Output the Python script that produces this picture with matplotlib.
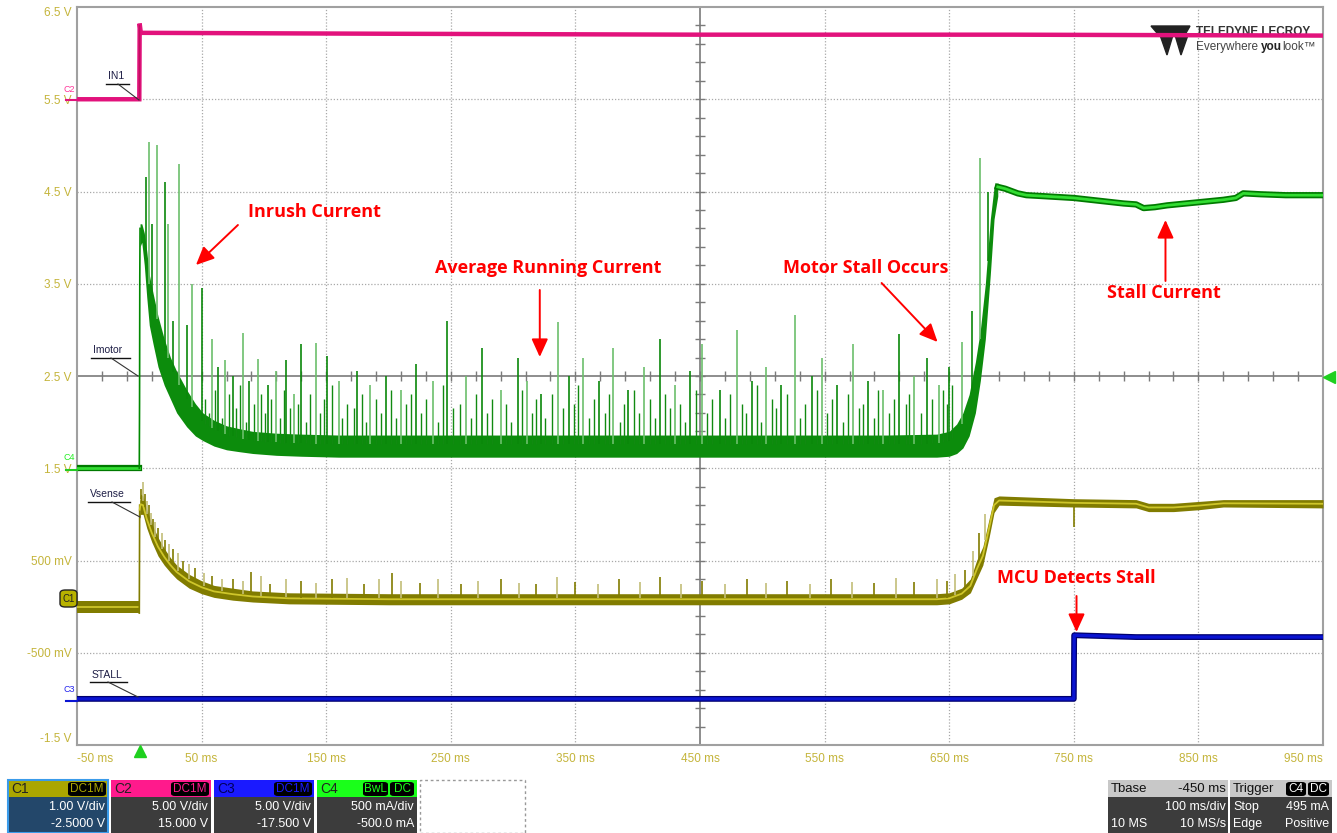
import numpy as np
import matplotlib.pyplot as plt
from matplotlib.patches import Rectangle, FancyBboxPatch, Polygon

plt.rcParams['font.family'] = ['Liberation Sans', 'DejaVu Sans']

W, H = 1337, 833

# axis labels (time in ms, screen volts on the C1 scale)
x_ticks = [-50, 50, 150, 250, 350, 450, 550, 650, 750, 850, 950]
x_labels = [f"{t} ms" for t in x_ticks]
y_ticks = [-1.5, -0.5, 0.5, 1.5, 2.5, 3.5, 4.5, 5.5, 6.5]
y_labels = ["-1.5 V", "-500 mV", "500 mV", "1.5 V", "2.5 V", "3.5 V", "4.5 V", "5.5 V", "6.5 V"]

# C2  IN1
in1_t = [-50, 0, 0.3, 1.2, 200, 450, 700, 950]
in1_v = [5.5, 5.5, 6.32, 6.22, 6.21, 6.2, 6.2, 6.19]

# C4  Imotor
im_pre_t = [-50, 0]
im_pre_v = [1.5, 1.5]
im_step_t = [0, 0.2, 0.4, 0.6]
im_step_v = [1.5, 2.2, 3.57, 4.1]
im_band_t = [0.6, 2, 4, 6, 8, 11, 15, 20, 25, 30, 38, 45, 51, 60, 70, 80, 91, 110, 130, 160,
             200, 300, 400, 500, 600, 640, 650, 656, 661, 666, 671, 675, 679, 683, 686, 689]
im_band_lo = [3.9, 3.95, 3.7, 3.35, 3.05, 2.85, 2.6, 2.4, 2.25, 2.1, 1.95, 1.85, 1.8, 1.74, 1.7, 1.68, 1.66, 1.64, 1.63, 1.62,
              1.62, 1.62, 1.62, 1.62, 1.62, 1.62, 1.63, 1.66, 1.72, 1.85, 2.1, 2.45, 2.9, 3.6, 4.2, 4.45]
im_band_hi = [4.15, 4.15, 4.05, 3.85, 3.6, 3.4, 3.15, 2.9, 2.7, 2.55, 2.35, 2.2, 2.1, 2.02, 1.96, 1.93, 1.9, 1.88, 1.87, 1.86,
              1.86, 1.86, 1.86, 1.86, 1.86, 1.87, 1.9, 1.98, 2.1, 2.3, 2.65, 3.0, 3.5, 4.2, 4.55, 4.6]
im_spk_t = [5.5, 8, 10, 14, 20.6, 22.7, 27, 32, 38, 42, 50, 58, 63, 69, 75, 83, 88, 95, 103, 110,
            118, 124, 130, 142, 151, 160, 175, 185, 198, 210, 222, 236, 247, 262, 275, 290, 304, 311, 322, 336,
            345, 356, 369, 380, 392, 405, 418, 430, 442, 452, 466, 480, 492, 503, 515, 526, 540, 548, 560, 573,
            585, 597, 610, 622, 632, 642, 650, 660, 668, 675, 681]
im_spk_v = [4.66, 5.04, 4.15, 5.0, 4.6, 4.15, 3.1, 4.8, 3.05, 3.5, 3.45, 2.9, 2.6, 2.67, 2.5, 2.97, 2.45, 2.68, 2.4, 2.55,
            2.67, 2.3, 2.85, 2.86, 2.72, 2.45, 2.55, 2.4, 2.5, 2.35, 2.63, 2.45, 3.1, 2.5, 2.8, 2.35, 2.7, 2.45, 2.3, 3.08,
            2.5, 2.7, 2.45, 2.8, 2.35, 2.6, 2.9, 2.4, 2.55, 2.85, 2.35, 3.0, 2.45, 2.6, 2.4, 3.16, 2.5, 2.7, 2.4, 2.85,
            2.45, 2.35, 2.95, 2.5, 2.7, 2.4, 2.6, 2.87, 3.2, 4.86, 4.5]
im_small_t = [53, 56, 61, 66, 72, 78, 81, 86, 92, 98, 101, 106, 113, 116, 121, 127, 134, 137, 145, 148,
              155, 163, 167, 172, 179, 182, 190, 194, 202, 206, 214, 218, 226, 230, 240, 244, 252, 257, 266, 270,
              279, 283, 294, 298, 307, 315, 318, 326, 331, 340, 349, 352, 361, 365, 374, 377, 386, 389, 397, 401,
              410, 414, 422, 426, 434, 438, 447, 456, 460, 470, 474, 484, 487, 496, 499, 508, 511, 520, 530, 534,
              544, 552, 556, 565, 569, 578, 581, 590, 593, 602, 606, 615, 618, 627, 636, 645, 648, 652]
im_small_v = [2.25, 2.1, 2.35, 2.05, 2.3, 2.15, 2.4, 2.0, 2.2, 2.3, 2.1, 2.25, 2.05, 2.35, 2.15, 2.2, 2.0, 2.3, 2.1, 2.25,
              2.4, 2.05, 2.2, 2.15, 2.3, 2.0, 2.25, 2.1, 2.35, 2.05, 2.2, 2.3, 2.1, 2.25, 2.0, 2.4, 2.15, 2.2, 2.05, 2.3,
              2.1, 2.25, 2.2, 2.0, 2.35, 2.1, 2.25, 2.05, 2.3, 2.15, 2.2, 2.4, 2.05, 2.25, 2.1, 2.3, 2.0, 2.2, 2.35, 2.1,
              2.25, 2.05, 2.3, 2.15, 2.2, 2.0, 2.35, 2.1, 2.25, 2.05, 2.3, 2.2, 2.1, 2.4, 2.0, 2.25, 2.15, 2.3, 2.05, 2.2,
              2.35, 2.1, 2.25, 2.0, 2.3, 2.15, 2.2, 2.05, 2.35, 2.1, 2.25, 2.2, 2.3, 2.1, 2.25, 2.35, 2.2, 2.4]
im_stall_t = [689, 695, 705, 712, 725, 750, 770, 790, 800, 806, 815, 825, 840, 855, 870, 880, 886, 900, 920, 950]
im_stall_v = [4.55, 4.53, 4.48, 4.46, 4.45, 4.43, 4.40, 4.37, 4.36, 4.32, 4.33, 4.35, 4.37, 4.39, 4.41, 4.43, 4.48, 4.47, 4.46, 4.46]

# C1  Vsense
vs_pre_t = [-50, 0]
vs_pre_lo = [-0.07, -0.07]
vs_pre_hi = [0.06, 0.06]
vs_band_t = [0.3, 1, 3, 6, 10, 15, 20, 25, 30, 40, 50, 60, 75, 91, 120, 200, 640, 650, 660, 667,
             672, 677, 682, 686, 690, 750, 800, 810, 830, 850, 870, 950]
vs_band_lo = [0.95, 1.0, 1.0, 0.85, 0.7, 0.55, 0.45, 0.37, 0.3, 0.2, 0.14, 0.1, 0.07, 0.05, 0.03, 0.02, 0.02, 0.03, 0.08, 0.15,
              0.3, 0.45, 0.75, 1.02, 1.1, 1.08, 1.07, 1.03, 1.03, 1.05, 1.08, 1.07]
vs_band_hi = [1.15, 1.22, 1.2, 1.05, 0.9, 0.75, 0.63, 0.53, 0.45, 0.35, 0.28, 0.23, 0.2, 0.17, 0.15, 0.14, 0.14, 0.15, 0.2, 0.3,
              0.5, 0.65, 0.95, 1.18, 1.2, 1.17, 1.16, 1.12, 1.12, 1.14, 1.16, 1.16]
vs_spk_t = [1.5, 3, 4.5, 6, 7.5, 9, 11, 13, 15, 18, 21, 24, 27, 31, 35, 40, 45, 52, 58, 66,
            75, 83, 90, 98, 105, 118, 130, 142, 155, 167, 180, 192, 203, 210, 225, 240, 258, 272, 290, 305,
            318, 335, 350, 368, 385, 402, 418, 435, 452, 470, 488, 503, 520, 538, 555, 572, 590, 607, 622, 640,
            648, 655, 663, 669, 674, 679]
vs_spk_v = [1.28, 1.35, 1.22, 1.15, 1.1, 1.02, 0.95, 0.92, 0.85, 0.8, 0.72, 0.68, 0.62, 0.58, 0.5, 0.46, 0.42, 0.36, 0.33, 0.3,
            0.3, 0.28, 0.38, 0.33, 0.25, 0.3, 0.28, 0.26, 0.3, 0.31, 0.25, 0.3, 0.36, 0.28, 0.26, 0.3, 0.25, 0.28, 0.3, 0.26,
            0.25, 0.32, 0.27, 0.25, 0.3, 0.27, 0.32, 0.25, 0.28, 0.24, 0.3, 0.26, 0.28, 0.25, 0.3, 0.27, 0.26, 0.31, 0.27, 0.3,
            0.28, 0.35, 0.4, 0.6, 0.8, 1.0]
vs_dip_t = [750]
vs_dip_v = [0.86]

# C3  STALL
stall_t = [-50, 750, 750.3, 800, 950]
stall_v = [-1.0, -1.0, -0.31, -0.33, -0.33]

fig = plt.figure(figsize=(W / 100, H / 100), dpi=100)
fig.patch.set_facecolor('white')
ax = fig.add_axes([77 / W, 1 - 745 / H, (1323 - 77) / W, (745 - 7) / H])
ax.set_xlim(-50, 950)
ax.set_ylim(-1.5, 6.5)


def px2d(px, py):
    return (px - 77) / 1.2466 - 50, 2.5 + (376 - py) / 92.25


# frame, grid, crosshair
for s in ax.spines.values():
    s.set_color('#A0A0A0')
    s.set_linewidth(1.5)
for t in x_ticks[1:-1]:
    if t != 450:
        ax.axvline(t, color='#A8A8A8', lw=0.9, ls=(0, (1, 1.5)), zorder=0)
for v in y_ticks[1:-1]:
    if v != 2.5:
        ax.axhline(v, color='#A8A8A8', lw=0.9, ls=(0, (1, 1.5)), zorder=0)
ax.axhline(2.5, color='#7A7A7A', lw=1.2, zorder=0)
ax.axvline(450, color='#7A7A7A', lw=1.2, zorder=0)
mt = np.arange(-30, 950, 20)
ax.plot(mt, np.full(len(mt), 2.5), ls='none', marker='|', ms=7, mew=1, color='#7A7A7A', zorder=0)
mv = np.arange(-1.3, 6.5, 0.2)
ax.plot(np.full(len(mv), 450), mv, ls='none', marker='_', ms=7, mew=1, color='#7A7A7A', zorder=0)

ax.set_xticks(x_ticks)
ax.set_xticklabels(x_labels)
ax.set_yticks(y_ticks)
ax.set_yticklabels(y_labels)
ax.tick_params(length=0, labelsize=8.5, labelcolor='#C4B43A')
ax.tick_params(axis='y', pad=4)
ax.tick_params(axis='x', pad=6)
xl = ax.get_xticklabels()
xl[0].set_ha('left')
xl[-1].set_ha('right')
yl = ax.get_yticklabels()
yl[0].set_va('bottom')
yl[-1].set_va('top')

# logo (behind the traces)
tr = fig.transFigure
ax.add_patch(Polygon([(1151 / W, 1 - 26 / H), (1190 / W, 1 - 26 / H), (1186 / W, 1 - 33 / H), (1157 / W, 1 - 33 / H)],
                     closed=True, transform=tr, color='#222222', zorder=1, clip_on=False))
ax.add_patch(Polygon([(1160 / W, 1 - 35 / H), (1173 / W, 1 - 35 / H), (1167 / W, 1 - 55 / H)],
                     closed=True, transform=tr, color='#222222', zorder=1, clip_on=False))
ax.add_patch(Polygon([(1175 / W, 1 - 35 / H), (1188 / W, 1 - 35 / H), (1181 / W, 1 - 55 / H)],
                     closed=True, transform=tr, color='#222222', zorder=1, clip_on=False))
ax.text(1196 / W, 1 - 32 / H, "TELEDYNE LECROY", transform=tr, fontsize=8.5, fontweight='bold',
        color='#333333', va='center', ha='left', zorder=1)
ax.text(1196 / W, 1 - 47 / H, "Everywhere", transform=tr, fontsize=8.5, color='#444444', va='center', ha='left', zorder=1)
ax.text(1261 / W, 1 - 47 / H, "you", transform=tr, fontsize=8.5, fontweight='bold', color='#222222', va='center', ha='left', zorder=1)
ax.text(1282 / W, 1 - 47 / H, "look\u2122", transform=tr, fontsize=8.5, color='#444444', va='center', ha='left', zorder=1)

# C2 IN1
ax.plot(in1_t, in1_v, color='#E2127C', lw=3.2, zorder=4, solid_joinstyle='miter')
ax.plot([0, 0], [5.5, 6.3], color='#C0105F', lw=1, zorder=4)

# C4 Imotor
ax.plot(im_pre_t, im_pre_v, color='#007A00', lw=4.5, zorder=4)
ax.plot(im_pre_t, im_pre_v, color='#33DD33', lw=2, zorder=4)
ax.plot(im_step_t, im_step_v, color='#008800', lw=1.2, zorder=4)
ax.fill_between(im_band_t, im_band_lo, im_band_hi, color='#0C8C0C', lw=0, zorder=3)
band_top = np.interp(im_small_t, im_band_t, im_band_hi)
ax.vlines(im_small_t, band_top - 0.1, im_small_v, color='#118A11', lw=1.0, zorder=3)
spk_base = np.interp(im_spk_t, im_band_t, im_band_hi)
for i, (t, v, b) in enumerate(zip(im_spk_t, im_spk_v, spk_base)):
    c = '#6CBF6C' if i % 2 else '#0A880A'
    ax.vlines(t, b - 0.1, v, color=c, lw=1.2, zorder=3)
ax.plot(im_stall_t, im_stall_v, color='#007A00', lw=4.5, zorder=4)
ax.plot(im_stall_t, im_stall_v, color='#33DD33', lw=2, zorder=4)

# C1 Vsense
ax.fill_between(vs_pre_t, vs_pre_lo, vs_pre_hi, color='#817C00', lw=0, zorder=3)
ax.plot(vs_pre_t, [np.mean(vs_pre_lo + vs_pre_hi)] * 2, color='#CFC62A', lw=1.3, zorder=3)
ax.plot([0, 0.3], [-0.07, 1.1], color='#817C00', lw=1.2, zorder=3)
ax.fill_between(vs_band_t, vs_band_lo, vs_band_hi, color='#817C00', lw=0, zorder=3)
vs_mid = (np.array(vs_band_lo) + np.array(vs_band_hi)) / 2
ax.plot(vs_band_t, vs_mid, color='#CFC62A', lw=1.3, zorder=3)
vs_base = np.interp(vs_spk_t, vs_band_t, vs_band_hi)
for i, (t, v, b) in enumerate(zip(vs_spk_t, vs_spk_v, vs_base)):
    c = '#C2BD78' if i % 2 else '#817C00'
    ax.vlines(t, b - 0.05, v, color=c, lw=1.2, zorder=3)
ax.vlines(vs_dip_t, np.interp(vs_dip_t, vs_band_t, vs_band_lo), vs_dip_v, color='#817C00', lw=1.2, zorder=3)

# C3 STALL
ax.plot(stall_t, stall_v, color='#00006E', lw=4.2, zorder=4)
ax.plot(stall_t, stall_v, color='#0A14D2', lw=2.4, zorder=4)

# trace labels with leader lines
for name, tx, ty, ul0, ul1, uy, d0, ex, ey in [
        ("IN1", 108, 76, 106, 129, 84, 118, 139, 100),
        ("Imotor", 93, 350, 91, 130, 358, 111, 138, 376),
        ("Vsense", 90, 494, 88, 130, 502, 112, 140, 517),
        ("STALL", 92, 675, 90, 127, 682, 108, 138, 697)]:
    x0, y0 = px2d(tx, ty)
    ax.text(x0, y0, name, fontsize=7.5, color='#1E1E46', ha='left', va='center', zorder=5)
    a, b = px2d(ul0, uy)
    c, _ = px2d(ul1, uy)
    ax.plot([a, c], [b, b], color='#111111', lw=1, zorder=5)
    p, q = px2d(d0, uy)
    r, s = px2d(ex, ey)
    ax.plot([p, r], [q, s], color='#333333', lw=0.8, zorder=5)

# red annotations
for txt, tx, ty, sx, sy, exx, eyy in [
        ("Inrush Current", 315, 212, 238, 225, 196, 265),
        ("Average Running Current", 548, 268, 540, 290, 540, 357),
        ("Motor Stall Occurs", 866, 268, 882, 283, 938, 342),
        ("Stall Current", 1164, 293, 1166, 281, 1166, 220),
        ("MCU Detects Stall", 1077, 578, 1077, 596, 1077, 632)]:
    x0, y0 = px2d(tx, ty)
    ax.text(x0, y0, txt, fontsize=13, fontweight='bold', color='#FF0000', ha='center', va='center',
            family=['Open Sans', 'DejaVu Sans'], zorder=6)
    ax.annotate('', xy=px2d(exx, eyy), xytext=px2d(sx, sy),
                arrowprops=dict(arrowstyle='-|>,head_length=0.55,head_width=0.25', color='#FF0000',
                                lw=1.4, shrinkA=0, shrinkB=0, mutation_scale=20), zorder=6)


def fx(px):
    return px / W


def fy(py):
    return 1 - py / H


def box(x0, y0, x1, y1, fc, **kw):
    fig.patches.append(Rectangle((fx(x0), fy(y1)), (x1 - x0) / W, (y1 - y0) / H,
                                 transform=fig.transFigure, facecolor=fc, **kw))


def ftext(x, y, s, **kw):
    kw.setdefault('fontsize', 9)
    kw.setdefault('va', 'center')
    fig.text(fx(x), fy(y), s, **kw)


def badge(x0, x1, y0, y1, s, col):
    fig.patches.append(FancyBboxPatch((fx(x0), fy(y1)), (x1 - x0) / W, (y1 - y0) / H,
                                      boxstyle='round,pad=0,rounding_size=0.003',
                                      transform=fig.transFigure, facecolor='#000000', edgecolor='none'))
    ftext((x0 + x1) / 2, (y0 + y1) / 2 + 0.5, s, color=col, ha='center', fontsize=8.5)


# channel markers outside the grid
ftext(63, 89, "C2", color='#FF3399', fontsize=6.5)
fig.add_artist(plt.Line2D([fx(66), fx(77)], [fy(100), fy(100)], color='#E2127C', lw=1.5))
ftext(63, 458, "C4", color='#22EE22', fontsize=6.5)
fig.add_artist(plt.Line2D([fx(66), fx(77)], [fy(470), fy(470)], color='#22CC22', lw=1.5))
fig.patches.append(FancyBboxPatch((fx(60), fy(607)), 17 / W, 17 / H, boxstyle='round,pad=0,rounding_size=0.004',
                                  transform=fig.transFigure, facecolor='#B8B200', edgecolor='#222222', lw=1))
ftext(68.5, 598.5, "C1", color='#222222', fontsize=7, ha='center')
ftext(63, 690, "C3", color='#2222EE', fontsize=6.5)
fig.add_artist(plt.Line2D([fx(66), fx(77)], [fy(701), fy(701)], color='#0A14D2', lw=1.5))

# trigger markers
fig.add_artist(plt.Line2D([fx(140)], [fy(751)], marker='^', ms=8, color='#1FD01F', ls='none'))
fig.add_artist(plt.Line2D([fx(1329)], [fy(377)], marker='<', ms=8, color='#1FD01F', ls='none'))

# channel descriptor boxes
for name, x0, hcol, tcol, badges, vdiv, off, body in [
        ("C1", 8, '#ABA600', '#222222', [("DC1M", 68, 106)], "1.00 V/div", "-2.5000 V", '#23476A'),
        ("C2", 111, '#FF1A8C', '#222222', [("DC1M", 171, 209)], "5.00 V/div", "15.000 V", '#3C3C3C'),
        ("C3", 214, '#1A1AFF', '#00005A', [("DC1M", 274, 312)], "5.00 V/div", "-17.500 V", '#3C3C3C'),
        ("C4", 317, '#1AFF1A', '#222222', [("BwL", 363, 388), ("DC", 390, 414)], "500 mA/div", "-500.0 mA", '#3C3C3C')]:
    box(x0, 797, x0 + 100, 833, body)
    box(x0, 780, x0 + 100, 797, hcol)
    if name == "C1":
        box(x0, 780, x0 + 100, 833, 'none', edgecolor='#3A9BEA', lw=1.5)
    ftext(x0 + 3, 789, name, color=tcol, fontsize=10)
    for s, b0, b1 in badges:
        badge(b0, b1, 782, 796, s, hcol)
    ftext(x0 + 97, 807, vdiv, color='white', ha='right')
    ftext(x0 + 97, 824, off, color='white', ha='right')
box(420, 780, 525, 833, 'none', edgecolor='#999999', lw=1, ls=(0, (2, 2)))

# timebase / trigger boxes
box(1108, 797, 1228, 833, '#3C3C3C')
box(1108, 780, 1228, 797, '#C8C8C8')
ftext(1111, 789, "Tbase", color='#111111', fontsize=9.5)
ftext(1226, 789, "-450 ms", color='#111111', fontsize=9.5, ha='right')
ftext(1226, 807, "100 ms/div", color='white', ha='right')
ftext(1111, 824, "10 MS", color='white')
ftext(1226, 824, "10 MS/s", color='white', ha='right')
box(1230, 797, 1332, 833, '#3C3C3C')
box(1230, 780, 1332, 797, '#C8C8C8')
ftext(1233, 789, "Trigger", color='#111111', fontsize=9.5)
badge(1286, 1306, 782, 796, "C4", 'white')
badge(1308, 1329, 782, 796, "DC", 'white')
ftext(1233, 807, "Stop", color='white')
ftext(1329, 807, "495 mA", color='white', ha='right')
ftext(1233, 824, "Edge", color='white')
ftext(1329, 824, "Positive", color='white', ha='right')

fig.savefig('out.png', dpi=100)
